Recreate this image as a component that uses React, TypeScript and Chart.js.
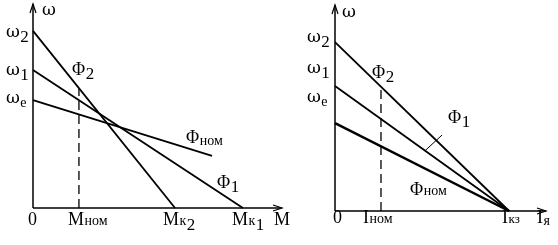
import React, { useEffect, useRef } from "react";
import { Chart, registerables } from "chart.js";

Chart.register(...registerables);

// ---------- Left panel: ω = f(M) ----------
const leftXTickValues = [0, 1.86, 5.75, 8.5]; // 0, Mном, Mк2, Mк1
const leftYTickValues = [8.68, 6.76, 5.29]; // ω2, ω1, ωe
const leftPhi2X = [0, 5.75];
const leftPhi2Y = [8.68, 0];
const leftPhi1X = [0, 8.5];
const leftPhi1Y = [6.76, 0];
const leftPhiNomX = [0, 7.25];
const leftPhiNomY = [5.29, 2.55];

// ---------- Right panel: ω = f(Iя) ----------
const rightXTickValues = [0, 2.19, 8.29]; // 0, Iном, Iкз
const rightYTickValues = [8.2, 6.07, 4.27]; // ω2, ω1, ωe
const rightPhi2X = [0, 8.29];
const rightPhi2Y = [8.2, 0];
const rightPhi1X = [0, 8.29];
const rightPhi1Y = [6.07, 0];
const rightPhiNomX = [0, 8.29];
const rightPhiNomY = [4.27, 0];
const rightLeaderX = [4.29, 5.1];
const rightLeaderY = [2.93, 3.69];

const FONT = '"Liberation Serif", "Times New Roman", serif';
const OMEGA_FONT = '"DejaVu Serif", "Liberation Serif", serif';

type Part = [string, number, number]; // text, size, dy

const omegaParts = (sub: string): Part[] =>
  sub === "e"
    ? [["ω", 17, 0], ["e", 14, 4]]
    : [["ω", 17, 0], [sub, 17, 5]];

function drawRich(ctx: CanvasRenderingContext2D, x: number, y: number, parts: Part[]) {
  let cx = x;
  for (const [t, size, dy] of parts) {
    ctx.font = `${size}px ${t === "ω" ? OMEGA_FONT : FONT}`;
    ctx.fillText(t, cx, y + dy);
    cx += ctx.measureText(t).width + 0.5;
  }
}

const pts = (xs: number[], ys: number[]) => xs.map((x, i) => ({ x, y: ys[i] }));
const lerpAt = (xs: number[], ys: number[], x: number) =>
  ys[0] + ((ys[1] - ys[0]) * (x - xs[0])) / (xs[1] - xs[0]);

const lineDs = (data: { x: number; y: number }[], width = 1.8, dash: number[] = []) => ({
  type: "line" as const,
  data,
  borderColor: "#000",
  borderWidth: width,
  borderDash: dash,
  pointRadius: 0,
  fill: false,
  tension: 0,
  clip: false as any,
});

type LabelSpec = { parts: Part[]; x: number; y: number };

function axesPlugin(labels: (chart: any) => LabelSpec[], yTop: number, xRight: number) {
  return {
    id: "axesAndLabels",
    afterDraw(chart: any) {
      const ctx: CanvasRenderingContext2D = chart.ctx;
      const sx = chart.scales.x;
      const sy = chart.scales.y;
      const x0 = sx.getPixelForValue(0);
      const y0 = sy.getPixelForValue(0);
      ctx.save();
      ctx.strokeStyle = "#000";
      ctx.fillStyle = "#000";
      ctx.lineWidth = 1.5;
      ctx.beginPath();
      ctx.moveTo(x0, y0);
      ctx.lineTo(x0, yTop);
      ctx.moveTo(x0, y0);
      ctx.lineTo(xRight, y0);
      ctx.stroke();
      ctx.lineWidth = 1.2;
      ctx.beginPath();
      ctx.moveTo(x0 - 3, yTop + 9);
      ctx.lineTo(x0, yTop);
      ctx.lineTo(x0 + 3, yTop + 9);
      ctx.moveTo(xRight - 9, y0 - 3);
      ctx.lineTo(xRight, y0);
      ctx.lineTo(xRight - 9, y0 + 3);
      ctx.stroke();
      ctx.textBaseline = "alphabetic";
      ctx.textAlign = "left";
      for (const l of labels(chart)) drawRich(ctx, l.x, l.y, l.parts);
      ctx.restore();
    },
  };
}

function makeChart(canvas: HTMLCanvasElement, datasets: any[], padding: any, plugin: any) {
  return new Chart(canvas, {
    type: "line",
    data: { datasets },
    options: {
      responsive: false,
      animation: false,
      devicePixelRatio: 1,
      events: [],
      layout: { padding },
      plugins: { legend: { display: false }, tooltip: { enabled: false } },
      scales: {
        x: { type: "linear", min: 0, max: 10, display: false },
        y: { type: "linear", min: 0, max: 10, display: false },
      },
    },
    plugins: [plugin],
  } as any);
}

export default function App() {
  const leftRef = useRef<HTMLCanvasElement>(null);
  const rightRef = useRef<HTMLCanvasElement>(null);

  useEffect(() => {
    const left = makeChart(
      leftRef.current!,
      [
        lineDs(pts(leftPhi2X, leftPhi2Y)),
        lineDs(pts(leftPhi1X, leftPhi1Y)),
        lineDs(pts(leftPhiNomX, leftPhiNomY)),
        lineDs(
          pts(
            [leftXTickValues[1], leftXTickValues[1]],
            [0, lerpAt(leftPhi2X, leftPhi2Y, leftXTickValues[1])]
          ),
          1.3,
          [9, 5]
        ),
      ],
      { left: 33, right: 20, top: 4, bottom: 37 },
      axesPlugin((chart) => {
        const sx = chart.scales.x;
        const sy = chart.scales.y;
        const px = (v: number) => sx.getPixelForValue(v);
        const py = (v: number) => sy.getPixelForValue(v);
        return [
          { parts: [["ω", 17, 0]], x: 42, y: 15 },
          { parts: omegaParts("2"), x: 6, y: py(leftYTickValues[0]) + 6 },
          { parts: omegaParts("1"), x: 6, y: py(leftYTickValues[1]) + 5 },
          { parts: omegaParts("e"), x: 6, y: py(leftYTickValues[2]) + 3 },
          { parts: [["Φ", 18, 0], ["2", 17, 4]], x: 72, y: 75 },
          { parts: [["Φ", 18, 0], ["ном", 14, 2]], x: 186, y: 143 },
          { parts: [["Φ", 18, 0], ["1", 17, 4]], x: 217, y: 188 },
          { parts: [["0", 18, 0]], x: px(leftXTickValues[0]) - 5, y: 225 },
          { parts: [["M", 18, 0], ["ном", 14, 0]], x: px(leftXTickValues[1]) - 11, y: 225 },
          { parts: [["M", 18, 0], ["к", 14, 0], ["2", 17, 5]], x: px(leftXTickValues[2]) - 12, y: 225 },
          { parts: [["M", 18, 0], ["к", 14, 0], ["1", 17, 5]], x: px(leftXTickValues[3]) - 11, y: 225 },
          { parts: [["M", 18, 0]], x: 274, y: 225 },
        ] as LabelSpec[];
      }, 4, 282)
    );

    const right = makeChart(
      rightRef.current!,
      [
        lineDs(pts(rightPhi2X, rightPhi2Y)),
        lineDs(pts(rightPhi1X, rightPhi1Y)),
        lineDs(pts(rightPhiNomX, rightPhiNomY), 2.5),
        lineDs(
          pts(
            [rightXTickValues[1], rightXTickValues[1]],
            [0, lerpAt(rightPhi2X, rightPhi2Y, rightXTickValues[1])]
          ),
          1.3,
          [9, 5]
        ),
        lineDs(pts(rightLeaderX, rightLeaderY), 1),
      ],
      { left: 55, right: 13, top: 5, bottom: 34 },
      axesPlugin((chart) => {
        const sx = chart.scales.x;
        const px = (v: number) => sx.getPixelForValue(v);
        return [
          { parts: [["ω", 17, 0]], x: 62, y: 17 },
          { parts: omegaParts("2"), x: 27, y: 42 },
          { parts: omegaParts("1"), x: 27, y: 73 },
          { parts: omegaParts("e"), x: 27, y: 102 },
          { parts: [["Φ", 18, 0], ["2", 17, 4]], x: 92, y: 78 },
          { parts: [["Φ", 18, 0], ["1", 17, 4]], x: 168, y: 123 },
          { parts: [["Φ", 18, 0], ["ном", 14, 0]], x: 130, y: 195 },
          { parts: [["0", 18, 0]], x: px(rightXTickValues[0]) - 2, y: 223 },
          { parts: [["I", 18, 0], ["ном", 14, 0]], x: px(rightXTickValues[1]) - 18, y: 223 },
          { parts: [["I", 18, 0], ["кз", 13, 0]], x: px(rightXTickValues[2]) - 7, y: 223 },
          { parts: [["I", 18, 0], ["я", 14, 2]], x: 257, y: 223 },
        ] as LabelSpec[];
      }, 5, 266)
    );

    return () => {
      left.destroy();
      right.destroy();
    };
  }, []);

  return (
    <div
      style={{
        position: "fixed",
        left: 0,
        top: 0,
        width: 558,
        height: 245,
        background: "#fff",
        overflow: "hidden",
      }}
    >
      <canvas
        ref={leftRef}
        width={300}
        height={245}
        style={{ position: "absolute", left: 0, top: 0, width: 300, height: 245 }}
      />
      <canvas
        ref={rightRef}
        width={278}
        height={245}
        style={{ position: "absolute", left: 280, top: 0, width: 278, height: 245 }}
      />
    </div>
  );
}
